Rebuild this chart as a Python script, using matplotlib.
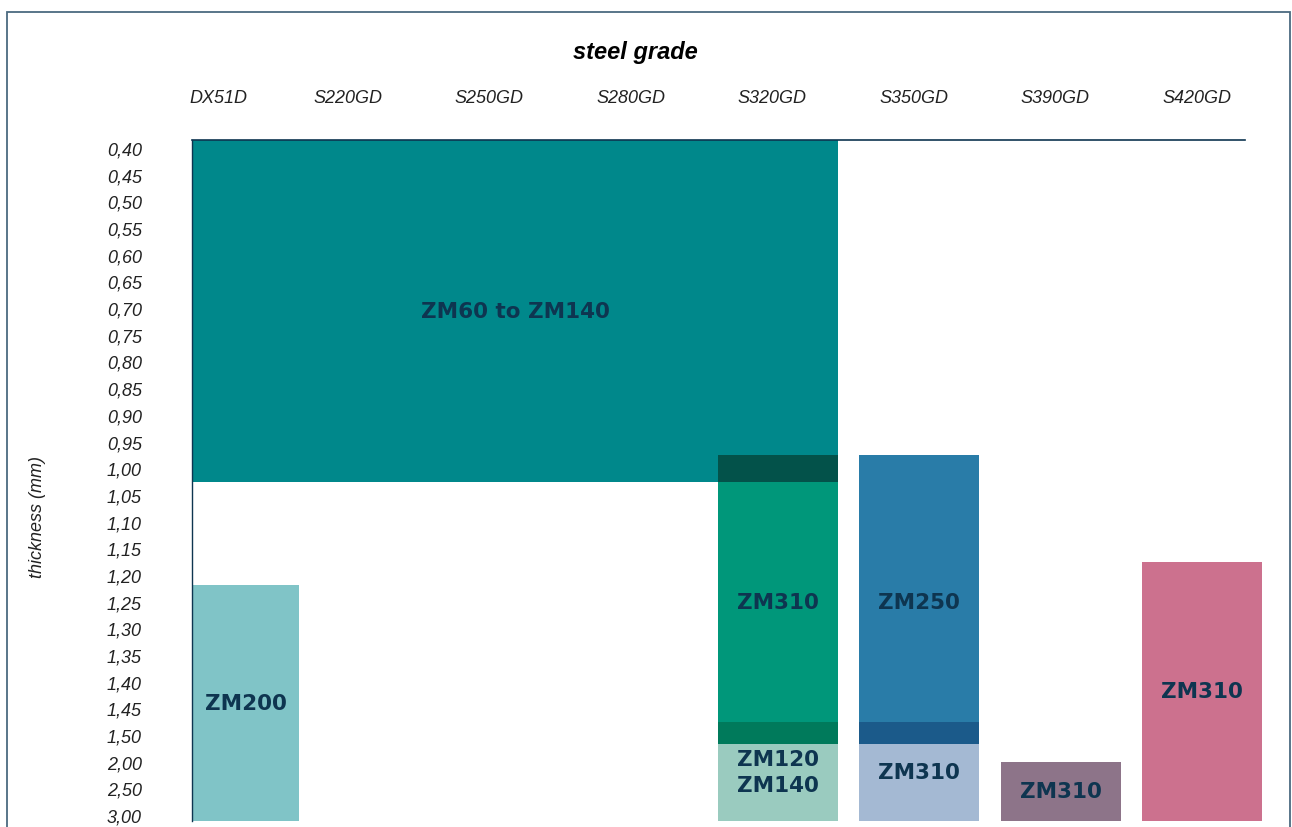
import numpy as np
import matplotlib
matplotlib.use("Agg")
import matplotlib.pyplot as plt
from matplotlib.patches import Rectangle

# categories and thickness scale
grades = ["DX51D", "S220GD", "S250GD", "S280GD", "S320GD", "S350GD", "S390GD", "S420GD"]
thickness = [0.40, 0.45, 0.50, 0.55, 0.60, 0.65, 0.70, 0.75, 0.80, 0.85, 0.90, 0.95,
             1.00, 1.05, 1.10, 1.15, 1.20, 1.25, 1.30, 1.35, 1.40, 1.45, 1.50,
             2.00, 2.50, 3.00]
tick_labels = ["%.2f" % v for v in thickness]
tick_labels = [t.replace(".", ",") for t in tick_labels]

# blocks: first grade, last grade, thickness from, thickness to, label
blk_first = ["DX51D", "DX51D", "S320GD", "S320GD", "S320GD", "S320GD", "S350GD", "S350GD", "S350GD", "S390GD", "S420GD"]
blk_last  = ["S320GD", "DX51D", "S320GD", "S320GD", "S320GD", "S320GD", "S350GD", "S350GD", "S350GD", "S390GD", "S420GD"]
blk_lo    = [0.40, 1.219, 0.975, 1.025, 1.475, 1.67, 0.975, 1.475, 1.67, 2.00, 1.175]
blk_hi    = [1.025, 3.00, 1.025, 1.475, 1.67, 3.00, 1.475, 1.67, 3.00, 3.00, 3.00]
blk_label = ["ZM60 to ZM140", "ZM200", "", "ZM310", "", "ZM120\nZM140", "ZM250", "", "ZM310", "ZM310", "ZM310"]

colors = ["#00888B", "#80C4C7", "#03524A", "#00977A", "#007A5B", "#9ACBBF",
          "#297CA8", "#1B5A8A", "#A4B9D3", "#8D7489", "#CC718E"]
text_col = "#0E3550"

rows = np.arange(len(thickness))
Y_TOP, Y_BOT = -0.3, 25.22
X_LEFT, X_RIGHT = -0.099, 7.463


def to_row(v):
    if v <= thickness[0]:
        return Y_TOP
    if v >= thickness[-1]:
        return Y_BOT
    return np.interp(v, thickness, rows)


fig = plt.figure(figsize=(12.92, 8.28), dpi=100)
W, H = 1292, 828
ax = fig.add_axes([192 / W, 1 - 822 / H, (1262 - 192) / W, (822 - 141) / H])
ax.set_xlim(X_LEFT, X_RIGHT)
ax.set_ylim(Y_BOT, Y_TOP)

for k in range(len(blk_lo)):
    i0 = grades.index(blk_first[k])
    i1 = grades.index(blk_last[k])
    x0 = X_LEFT if i0 == 0 else i0 - 0.384
    x1 = 0.657 if i1 == 0 else i1 + 0.466
    y0 = to_row(blk_lo[k])
    y1 = to_row(blk_hi[k])
    ax.add_patch(Rectangle((x0, y0), x1 - x0, y1 - y0, facecolor=colors[k],
                           edgecolor="none", zorder=1))
    if blk_label[k]:
        ym = (y0 + y1) / 2
        if "\n" in blk_label[k] or (blk_first[k] == "S350GD" and blk_hi[k] == 3.00):
            ym -= 0.4
        if blk_label[k] == "ZM250":
            ym = (to_row(1.025) + to_row(1.475)) / 2
        ax.text((x0 + x1) / 2, ym, blk_label[k], ha="center", va="center",
                fontsize=15.5, fontweight="bold", color=text_col,
                family="DejaVu Sans", linespacing=1.35, zorder=3)

# axes lines
for s in ["right", "bottom"]:
    ax.spines[s].set_visible(False)
ax.spines["top"].set_color(text_col)
ax.spines["top"].set_linewidth(1.2)
ax.spines["top"].set_bounds(X_LEFT, 7.343)
ax.spines["left"].set_color(text_col)
ax.spines["left"].set_linewidth(1.0)
for sp in ax.spines.values():
    sp.set_zorder(4)

ax.set_xticks([])
ax.set_yticks(rows)
ax.set_yticklabels(tick_labels, fontsize=13, style="italic",
                   family="Liberation Sans", color="#222222")
ax.tick_params(axis="y", length=0, pad=36)

for i, g in enumerate(grades):
    ax.text(i + (0.09 if i == 0 else 0), -1.91, g, ha="center", va="center",
            fontsize=13, style="italic", family="Liberation Sans",
            color="#222222", clip_on=False)

fig.text(635 / W, 1 - 52 / H, "steel grade", ha="center", va="center",
         fontsize=17, fontweight="bold", style="italic",
         family="Liberation Sans", color="black")
fig.text(38 / W, 1 - 517 / H, "thickness (mm)", ha="center", va="center",
         rotation=90, fontsize=13, style="italic", family="Liberation Sans",
         color="#222222")

# outer frame
fig.patches.append(Rectangle((6.5 / W, -0.05), (1290 - 6.5) / W, 1.05 - 12.5 / H,
                             transform=fig.transFigure, fill=False,
                             edgecolor="#4B6A80", linewidth=1.3))

fig.savefig("out.png", dpi=100)
